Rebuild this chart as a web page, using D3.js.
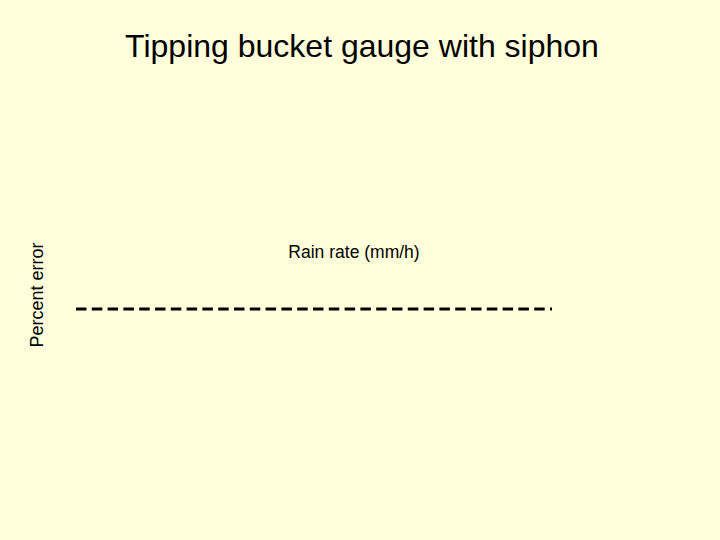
<!DOCTYPE html>
<html>
<head>
<meta charset="utf-8">
<script src="https://cdn.jsdelivr.net/npm/d3@7"></script>
<style>
  body { margin: 0; background: #ffffdb; }
  svg { display: block; }
</style>
</head>
<body>
<div id="chart"></div>
<script>
let width = 720, height = 540

// DATA
let title = 'Tipping bucket gauge with siphon'
let xLabel = 'Rain rate (mm/h)'
let yLabel = 'Percent error'
let rainRate = [0, 300]
let zeroError = [0, 0]

let plot = { left: 76, right: 552, top: 90, bottom: 528 }

let x = d3.scaleLinear()
  .domain(d3.extent(rainRate))
  .range([plot.left, plot.right])

let y = d3.scaleLinear()
  .domain([-100, 100])
  .range([plot.bottom, plot.top])

let svg = d3.select('#chart')
  .append('svg')
  .attr('width', width)
  .attr('height', height)

svg.append('rect')
  .attr('width', width)
  .attr('height', height)
  .attr('fill', '#ffffdb')

svg.append('text')
  .attr('x', 362)
  .attr('y', 57)
  .attr('text-anchor', 'middle')
  .style('font-family', 'Liberation Sans, Arial, sans-serif')
  .style('font-size', '32px')
  .text(title)

svg.append('text')
  .attr('x', 354)
  .attr('y', 258)
  .attr('text-anchor', 'middle')
  .style('font-family', 'Liberation Sans, Arial, sans-serif')
  .style('font-size', '17.5px')
  .text(xLabel)

svg.append('text')
  .attr('transform', 'translate(42.5,295) rotate(-90)')
  .attr('text-anchor', 'middle')
  .style('font-family', 'Liberation Sans, Arial, sans-serif')
  .style('font-size', '18px')
  .text(yLabel)

// dashed zero line
let line = d3.line()
  .x((d, i) => x(rainRate[i]))
  .y(d => y(d))

svg.append('path')
  .datum(zeroError)
  .attr('d', line)
  .attr('fill', 'none')
  .attr('stroke', '#000')
  .attr('stroke-width', 3)
  .attr('stroke-dasharray', '10.5,5.3')
</script>
</body>
</html>
